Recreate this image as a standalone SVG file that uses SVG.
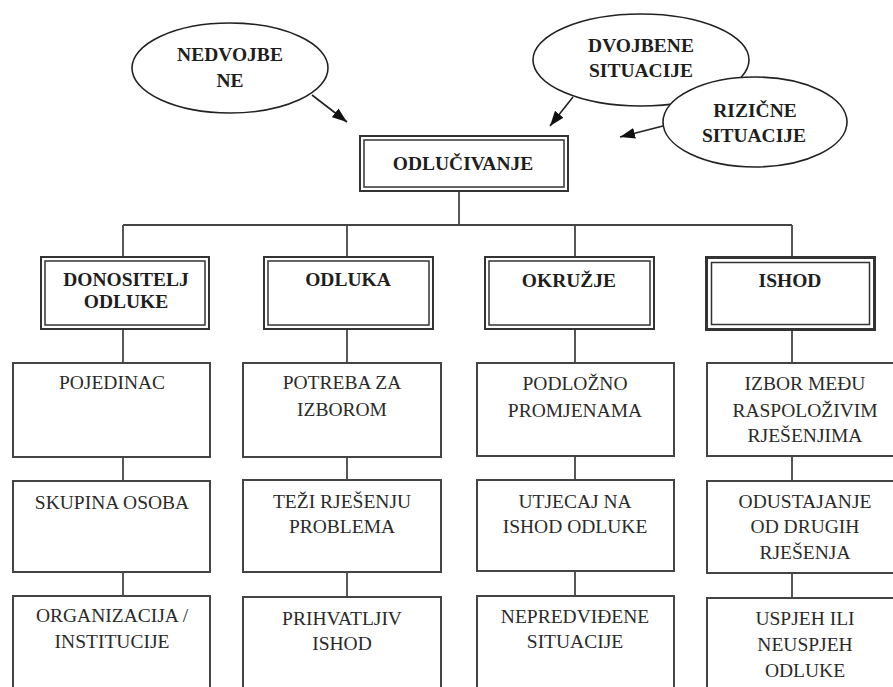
<svg xmlns="http://www.w3.org/2000/svg" width="893" height="687" viewBox="0 0 893 687">
<style>
text{font-family:'Liberation Serif','DejaVu Serif',serif}
.t{font-size:19.5px;fill:#2a2a2a;text-anchor:middle}
.b{font-weight:bold;fill:#1e1e1e}
.n{font-weight:normal}
.ell{fill:#fff;stroke:#222;stroke-width:1.6}
.out{fill:#fff;stroke:#333;stroke-width:2}
.in{fill:none;stroke:#333;stroke-width:1.5}
.box{fill:#fff;stroke:#444;stroke-width:2}
.con{fill:none;stroke:#444;stroke-width:1.8}
.arr{fill:none;stroke:#222;stroke-width:1.6}
</style>
<defs>
<marker id="ah" markerUnits="userSpaceOnUse" markerWidth="16" markerHeight="12" refX="15" refY="5.5" orient="auto">
<path d="M0,0 L15,5.5 L0,11 z" fill="#111"/>
</marker>
</defs>
<rect width="893" height="687" fill="#fff"/>
<g id="connectors">
<line class="con" x1="459" y1="191" x2="459" y2="225"/>
<line class="con" x1="123" y1="225" x2="792" y2="225"/>
<line class="con" x1="123" y1="225" x2="123" y2="257"/>
<line class="con" x1="347" y1="225" x2="347" y2="257"/>
<line class="con" x1="575" y1="225" x2="575" y2="257"/>
<line class="con" x1="792" y1="225" x2="792" y2="257"/>
<line class="con" x1="123" y1="329" x2="123" y2="363"/>
<line class="con" x1="123" y1="457" x2="123" y2="481"/>
<line class="con" x1="123" y1="572" x2="123" y2="596"/>
<line class="con" x1="347" y1="329" x2="347" y2="363"/>
<line class="con" x1="347" y1="457" x2="347" y2="480"/>
<line class="con" x1="347" y1="572" x2="347" y2="597"/>
<line class="con" x1="575" y1="329" x2="575" y2="363"/>
<line class="con" x1="575" y1="456" x2="575" y2="480"/>
<line class="con" x1="575" y1="571" x2="575" y2="596"/>
<line class="con" x1="792" y1="330" x2="792" y2="363"/>
<line class="con" x1="792" y1="456" x2="792" y2="481"/>
<line class="con" x1="792" y1="573" x2="792" y2="598"/>
<line class="arr" x1="312" y1="95" x2="347" y2="122" marker-end="url(#ah)"/>
<line class="arr" x1="573" y1="97" x2="550" y2="126" marker-end="url(#ah)"/>
<line class="arr" x1="663" y1="126" x2="620" y2="137" marker-end="url(#ah)"/>
</g>
<g id="nedvojbene">
<ellipse class="ell" cx="230" cy="68" rx="98" ry="45"/>
<text class="t b" x="230" y="61">NEDVOJBE</text>
<text class="t b" x="230" y="87">NE</text>
</g>
<g id="dvojbene">
<ellipse class="ell" cx="641" cy="60" rx="108" ry="46"/>
<text class="t b" x="641" y="52">DVOJBENE</text>
<text class="t b" x="641" y="77">SITUACIJE</text>
</g>
<g id="rizicne">
<ellipse class="ell" cx="755" cy="122" rx="92" ry="45"/>
<text class="t b" x="755" y="117">RIZIČNE</text>
<text class="t b" x="754" y="142">SITUACIJE</text>
</g>
<g id="odlucivanje">
<rect class="out" x="360" y="136" width="208" height="55"/>
<rect class="in" x="364" y="140" width="200" height="47"/>
<text class="t b" x="463" y="170">ODLUČIVANJE</text>
</g>
<g id="donositelj">
<rect class="out" x="41" y="257" width="168" height="72"/>
<rect class="in" x="45" y="261" width="160" height="64"/>
<text class="t b" x="126" y="286">DONOSITELJ</text>
<text class="t b" x="126" y="308">ODLUKE</text>
</g>
<g id="odluka">
<rect class="out" x="264" y="257" width="169" height="72"/>
<rect class="in" x="268" y="261" width="161" height="64"/>
<text class="t b" x="348" y="286">ODLUKA</text>
</g>
<g id="okruzje">
<rect class="out" x="485" y="257" width="169" height="72"/>
<rect class="in" x="489" y="261" width="161" height="64"/>
<text class="t b" x="569" y="287">OKRUŽJE</text>
</g>
<g id="ishod">
<rect class="out" x="706.5" y="257.5" width="168" height="72" style="stroke-width:3"/>
<rect class="in" x="711.5" y="262.5" width="158" height="62"/>
<text class="t b" x="790" y="287">ISHOD</text>
</g>
<g id="pojedinac">
<rect class="box" x="13" y="363" width="197" height="94"/>
<text class="t n" x="112" y="389">POJEDINAC</text>
</g>
<g id="skupina">
<rect class="box" x="13" y="481" width="197" height="91"/>
<text class="t n" x="112" y="509">SKUPINA OSOBA</text>
</g>
<g id="organizacija">
<rect class="box" x="13" y="596" width="197" height="110"/>
<text class="t n" x="112" y="622">ORGANIZACIJA /</text>
<text class="t n" x="112" y="648">INSTITUCIJE</text>
</g>
<g id="potreba">
<rect class="box" x="243" y="363" width="198" height="94"/>
<text class="t n" x="342" y="389">POTREBA ZA</text>
<text class="t n" x="342" y="416">IZBOROM</text>
</g>
<g id="tezi">
<rect class="box" x="243" y="480" width="198" height="92"/>
<text class="t n" x="342" y="508">TEŽI RJEŠENJU</text>
<text class="t n" x="342" y="533">PROBLEMA</text>
</g>
<g id="prihvatljiv">
<rect class="box" x="243" y="597" width="198" height="110"/>
<text class="t n" x="342" y="625">PRIHVATLJIV</text>
<text class="t n" x="342" y="650">ISHOD</text>
</g>
<g id="podlozno">
<rect class="box" x="477" y="363" width="197" height="93"/>
<text class="t n" x="575" y="390">PODLOŽNO</text>
<text class="t n" x="575" y="417">PROMJENAMA</text>
</g>
<g id="utjecaj">
<rect class="box" x="477" y="480" width="197" height="91"/>
<text class="t n" x="575" y="508">UTJECAJ NA</text>
<text class="t n" x="575" y="533">ISHOD ODLUKE</text>
</g>
<g id="nepredvidene">
<rect class="box" x="477" y="596" width="197" height="110"/>
<text class="t n" x="575" y="623">NEPREDVIĐENE</text>
<text class="t n" x="575" y="648">SITUACIJE</text>
</g>
<g id="izbor">
<rect class="box" x="707" y="363" width="197" height="93"/>
<text class="t n" x="805" y="390">IZBOR MEĐU</text>
<text class="t n" x="805" y="417">RASPOLOŽIVIM</text>
<text class="t n" x="805" y="442">RJEŠENJIMA</text>
</g>
<g id="odustajanje">
<rect class="box" x="707" y="481" width="197" height="92"/>
<text class="t n" x="805" y="508">ODUSTAJANJE</text>
<text class="t n" x="805" y="533">OD DRUGIH</text>
<text class="t n" x="805" y="559">RJEŠENJA</text>
</g>
<g id="uspjeh">
<rect class="box" x="707" y="598" width="197" height="110"/>
<text class="t n" x="805" y="625">USPJEH ILI</text>
<text class="t n" x="805" y="651">NEUSPJEH</text>
<text class="t n" x="805" y="677">ODLUKE</text>
</g>
</svg>
